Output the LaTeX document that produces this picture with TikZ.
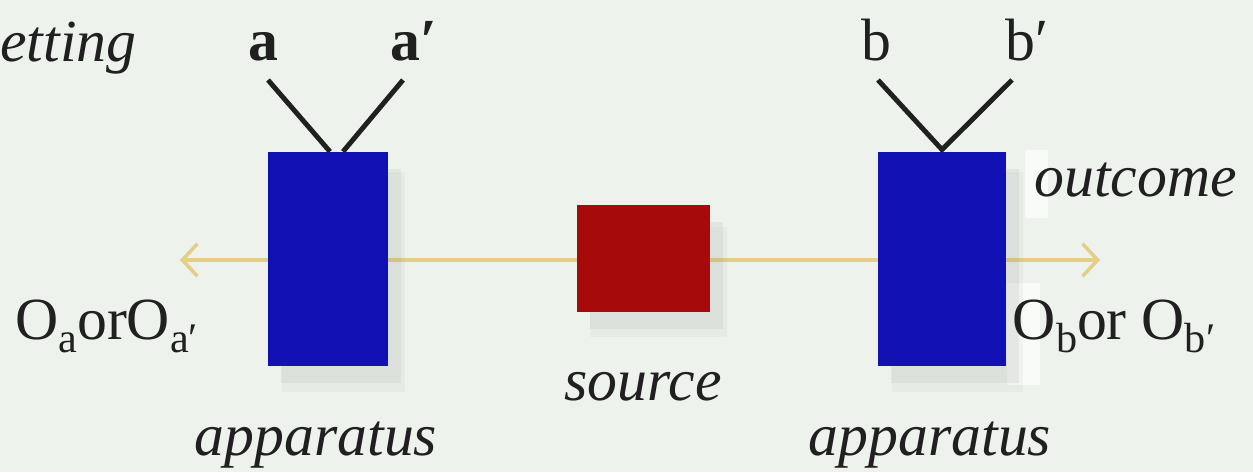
\documentclass[tikz,border=0pt]{standalone}
\usepackage{fontspec}
\setmainfont{Liberation Serif}
\usetikzlibrary{positioning,shadows,backgrounds,arrows.meta}

\definecolor{bgcol}{HTML}{EEF2ED}
\definecolor{patchcol}{HTML}{F9FBF9}
\definecolor{appblue}{HTML}{1212B4}
\definecolor{srcred}{HTML}{A70A0A}
\definecolor{beamcol}{HTML}{E5CE86}
\definecolor{inkcol}{HTML}{202020}

\newcommand{\lowsub}[1]{\raisebox{-0.45ex}{\fontsize{24}{24}\selectfont #1}}

\tikzset{
  boxshadow/.style={drop shadow={shadow xshift=0.25cm, shadow yshift=-0.35cm, opacity=0.10},
    drop shadow={shadow xshift=0.3cm, shadow yshift=-0.45cm, shadow scale=1.03, opacity=0.06}},
  apparatus/.style={fill=appblue, inner sep=0pt, minimum height=4.28cm, boxshadow},
  sourcebox/.style={fill=srcred, inner sep=0pt, minimum width=2.66cm, minimum height=2.14cm, boxshadow},
  beamline/.style={beamcol, line width=2pt},
  vline/.style={inkcol, line width=2.8pt},
  lbl/.style={inkcol, inner sep=0pt, font=\fontsize{34}{38}\selectfont},
}

\begin{document}
\begin{tikzpicture}[>={Straight Barb[length=3mm,width=6.5mm]}]
    \useasboundingbox (0,0) rectangle (25.06,9.44);

    % 1. Apparatus and source
    \node[apparatus, minimum width=2.4cm] (appA) at (6.56,4.26) {};
    \node[apparatus, minimum width=2.56cm] (appB) at (18.84,4.26) {};
    \node[sourcebox] (src) at (12.87,4.27) {};

    % 2. Settings
    \node[lbl, anchor=base west] (setting) at (0,8.2) {\itshape etting};
    \node[lbl, anchor=base] (a) at (5.26,8.22) {\bfseries a};
    \node[lbl, anchor=base west] (a2) at (7.8,8.22) {\bfseries a′};
    \node[lbl, anchor=base] (b) at (17.52,8.22) {b};
    \node[lbl, anchor=base west] (b2) at (20.1,8.22) {b′};

    \coordinate (aEnd) at (5.36,7.84);
    \coordinate (a2End) at (8.06,7.84);
    \coordinate (bEnd) at (17.56,7.84);
    \coordinate (b2End) at (20.24,7.84);
    \draw[vline] ([xshift=0.04cm]appA.north) -- (aEnd);
    \draw[vline] ([xshift=0.3cm]appA.north) -- (a2End);
    \draw[vline, line join=miter] (bEnd) -- ([yshift=0.04cm]appB.north) -- (b2End);

    % 3. Outcomes
    \node[lbl, anchor=base west] (outc) at (20.68,5.5) {\itshape outcome};
    \node[lbl, anchor=base west] (oA) at (0.3,2.64) {O\lowsub{a}orO\lowsub{a′}};
    \node[lbl, anchor=base west] (oB) at (20.25,2.64) {O\lowsub{b}or O\lowsub{b′}};

    % 4. Captions
    \node[lbl, anchor=base] (srclbl) at (12.86,1.44) {\itshape source};
    \node[lbl, anchor=base] (appAlbl) at (6.32,0.34) {\itshape apparatus};
    \node[lbl, anchor=base] (appBlbl) at (18.6,0.34) {\itshape apparatus};

    % 5. Beam and label patches behind the boxes
    \coordinate (tipL) at (3.6,4.24);
    \coordinate (tipR) at (22,4.24);
    \begin{pgfonlayer}{background}
        \fill[bgcol] (0,0) rectangle (25.06,9.44);
        \fill[patchcol] (20.5,5.08) rectangle (20.95,6.44);
        \fill[patchcol] (20.14,1.74) rectangle (20.8,3.78);
        \draw[beamline, ->] ([yshift=-0.03cm]src.west) -- (tipL);
        \draw[beamline, ->] ([yshift=-0.03cm]src.east) -- (tipR);
    \end{pgfonlayer}
\end{tikzpicture}
\end{document}
